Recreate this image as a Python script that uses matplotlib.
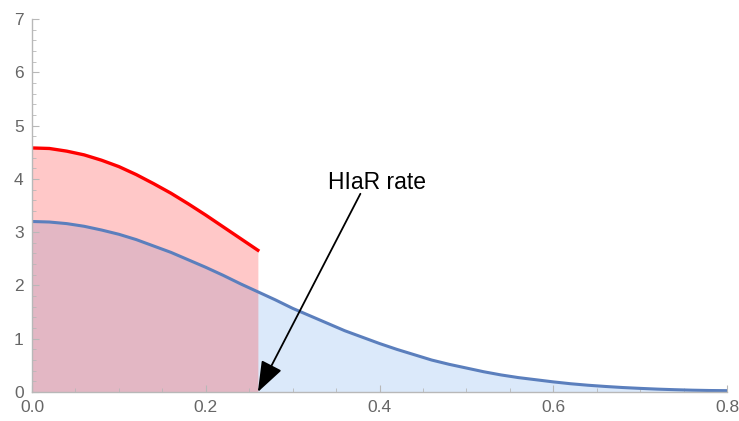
import matplotlib.pyplot as plt
from matplotlib.ticker import MultipleLocator, FormatStrFormatter

# blue density curve
blue_x = [0.00, 0.02, 0.04, 0.06, 0.08, 0.10, 0.12, 0.14, 0.16, 0.18, 0.20,
          0.22, 0.24, 0.26, 0.28, 0.30, 0.32, 0.34, 0.36, 0.38, 0.40,
          0.42, 0.44, 0.46, 0.48, 0.50, 0.52, 0.54, 0.56, 0.58, 0.60,
          0.62, 0.64, 0.66, 0.68, 0.70, 0.72, 0.74, 0.76, 0.78, 0.80]
blue_y = [3.20, 3.19, 3.16, 3.11, 3.04, 2.96, 2.86, 2.74, 2.62, 2.48, 2.34,
          2.19, 2.03, 1.88, 1.73, 1.57, 1.43, 1.29, 1.15, 1.03, 0.91,
          0.80, 0.70, 0.60, 0.52, 0.45, 0.38, 0.32, 0.27, 0.23, 0.19,
          0.155, 0.127, 0.104, 0.084, 0.068, 0.054, 0.043, 0.034, 0.028, 0.025]

# red curve, stops at the HIaR rate
red_x = [0.00, 0.02, 0.04, 0.06, 0.08, 0.10, 0.12, 0.14, 0.16, 0.18, 0.20,
         0.22, 0.24, 0.26]
red_y = [4.58, 4.57, 4.52, 4.45, 4.35, 4.23, 4.08, 3.91, 3.73, 3.53, 3.32,
         3.10, 2.88, 2.66]

hiar_rate = 0.26
label_text = "HIaR rate"
label_pos = (0.397, 3.94)
arrow_start = (0.378, 3.72)

plt.rcParams["font.family"] = ["Liberation Sans", "DejaVu Sans"]

fig = plt.figure(figsize=(7.39, 4.21), dpi=100)
ax = fig.add_axes([32 / 739, 29 / 421, 695 / 739, 373 / 421])

ax.fill_between(blue_x, 0, blue_y, color="#dbe9fa", linewidth=0)
ax.plot(blue_x, blue_y, color="#5b7fbd", linewidth=2.2)
ax.fill_between(red_x, 0, red_y, color="#ff1a1a", alpha=0.24, linewidth=0)
ax.plot(red_x, red_y, color="#ff0000", linewidth=2.4)

ax.annotate("", xy=(hiar_rate, 0), xytext=arrow_start,
            arrowprops=dict(arrowstyle="-|>,head_length=1.9,head_width=0.7",
                            color="black", lw=1.3, shrinkA=0, shrinkB=0))
ax.text(label_pos[0], label_pos[1], label_text, fontsize=16.5, ha="center", va="center")

ax.set_xlim(0, 0.8)
ax.set_ylim(0, 7)
ax.xaxis.set_major_locator(MultipleLocator(0.2))
ax.xaxis.set_minor_locator(MultipleLocator(0.05))
ax.yaxis.set_major_locator(MultipleLocator(1))
ax.yaxis.set_minor_locator(MultipleLocator(0.2))
ax.xaxis.set_major_formatter(FormatStrFormatter("%.1f"))

for side in ["top", "right"]:
    ax.spines[side].set_visible(False)
for side in ["left", "bottom"]:
    ax.spines[side].set_color("#b8b8b8")
    ax.spines[side].set_linewidth(1.0)

ax.tick_params(which="both", direction="in", color="#b8b8b8", labelcolor="#666666",
               labelsize=12.5)
ax.tick_params(which="major", length=5)
ax.tick_params(which="minor", length=3)
ax.tick_params(axis="x", pad=6)
ax.tick_params(axis="y", pad=6)

fig.savefig("out.png", dpi=100)
